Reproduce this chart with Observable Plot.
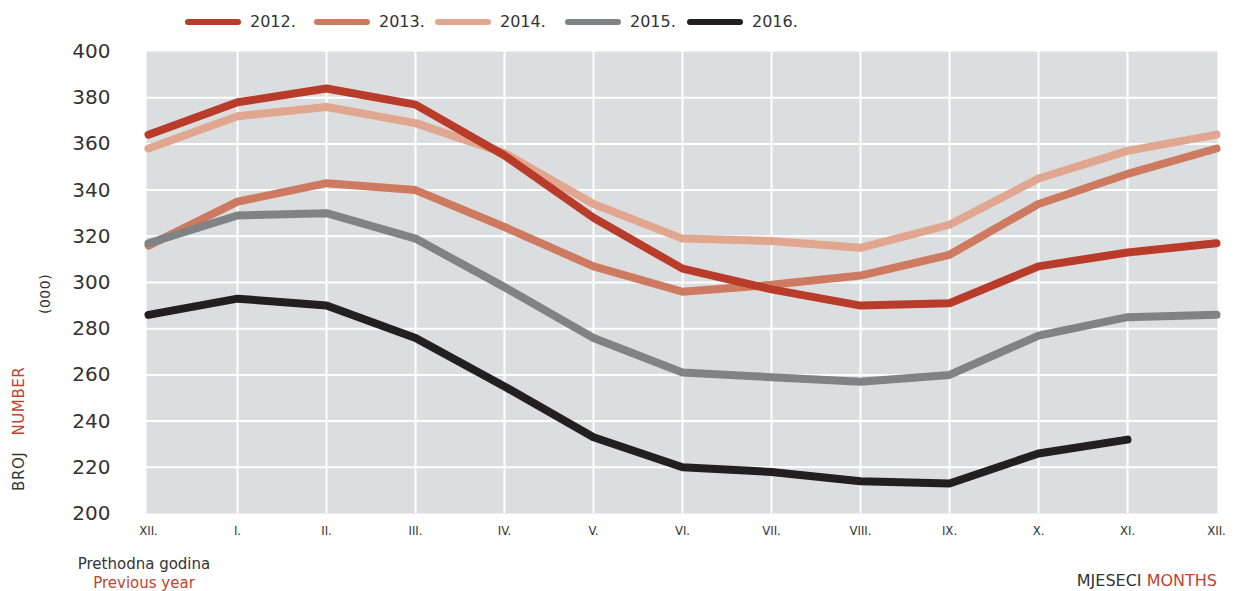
<!DOCTYPE html>
<html>
<head>
<meta charset="utf-8">
<script src="https://cdn.jsdelivr.net/npm/d3@7"></script>
<script src="https://cdn.jsdelivr.net/npm/@observablehq/plot@0.6"></script>
<style>
  body { margin: 0; background: #fff; font-family: "DejaVu Sans", sans-serif; }
  #wrap { position: relative; width: 1241px; height: 591px; overflow: hidden; }
  #legend { position: absolute; left: 0; top: 0; height: 40px; width: 1241px; }
  .item { position: absolute; top: 12px; display: flex; align-items: center; font-size: 16px; color: #333; }
  .sw { display: inline-block; width: 56px; height: 6px; border-radius: 3px; margin-right: 9px; }
  #chart { position: absolute; left: 0; top: 40px; }
  .ann { position: absolute; font-size: 15px; white-space: nowrap; }
  .red { color: #c0432f; }
  .dark { color: #333; }
</style>
</head>
<body>
<div id="wrap">
  <div id="legend"></div>
  <div id="chart"></div>
  <div class="ann" style="left:10px; top:491px; transform-origin:0 0; transform:rotate(-90deg); font-size:15px; letter-spacing:0.6px;">
    <span class="dark">BROJ</span>&nbsp;&nbsp;&nbsp;<span class="red">NUMBER</span>
  </div>
  <div class="ann dark" style="left:37px; top:314px; transform-origin:0 0; transform:rotate(-90deg); font-size:14px; letter-spacing:0.5px;">(000)</div>
  <div class="ann dark" style="left:0; width:288px; text-align:center; top:555px;">Prethodna godina</div>
  <div class="ann red" style="left:0; width:288px; text-align:center; top:574px;">Previous year</div>
  <div class="ann" style="right:24px; top:571px; font-size:16px;"><span class="dark">MJESECI</span> <span class="red">MONTHS</span></div>
</div>
<script>
const months = ["XII.", "I.", "II.", "III.", "IV.", "V.", "VI.", "VII.", "VIII.", "IX.", "X.", "XI.", "XII."];
const years = ["2012.", "2013.", "2014.", "2015.", "2016."];
const colors = ["#b83c29", "#cd7a60", "#e0a68f", "#818285", "#231f20"];

const v2012 = [364, 378, 384, 377, 355, 328, 306, 297, 290, 291, 307, 313, 317];
const v2013 = [316, 335, 343, 340, 324, 307, 296, 299, 303, 312, 334, 347, 358];
const v2014 = [358, 372, 376, 369, 356, 334, 319, 318, 315, 325, 345, 357, 364];
const v2015 = [317, 329, 330, 319, 298, 276, 261, 259, 257, 260, 277, 285, 286];
const v2016 = [286, 293, 290, 276, 255, 233, 220, 218, 214, 213, 226, 232, null];

const yTicks = [200, 220, 240, 260, 280, 300, 320, 340, 360, 380, 400];
const gridY = [220, 240, 260, 280, 300, 320, 340, 360, 380];

const series = [v2012, v2013, v2014, v2015, v2016];
const rows = [];
series.forEach((vals, s) => vals.forEach((v, i) => { if (v != null) rows.push({year: years[s], i, value: v}); }));

// legend
const legend = document.getElementById("legend");
const lx = [185, 314, 435, 565, 687];
years.forEach((y, k) => {
  const d = document.createElement("div");
  d.className = "item";
  d.style.left = lx[k] + "px";
  d.innerHTML = `<span class="sw" style="background:${colors[k]}"></span><span>${y}</span>`;
  legend.appendChild(d);
});

const drawOrder = ["2014.", "2013.", "2012.", "2015.", "2016."];

const plot = Plot.plot({
  width: 1241,
  height: 551,
  marginTop: 11,
  marginBottom: 78,
  marginLeft: 146,
  marginRight: 24,
  style: { fontFamily: "DejaVu Sans, sans-serif", color: "#333", background: "transparent" },
  x: { type: "point", domain: d3.range(months.length), padding: 0 },
  y: { domain: [200, 400] },
  color: { domain: years, range: colors },
  marks: [
    Plot.frame({ fill: "#dcdddf", stroke: null }),
    Plot.gridY(gridY, { stroke: "#fff", strokeOpacity: 1, strokeWidth: 2 }),
    Plot.gridX(d3.range(1, 12), { stroke: "#fff", strokeOpacity: 1, strokeWidth: 2 }),
    ...drawOrder.map(y => Plot.line(rows.filter(r => r.year === y), {
      x: "i", y: "value", stroke: "year", strokeWidth: 8,
      strokeLinecap: "round", strokeLinejoin: "round"
    })),
    Plot.axisY({ ticks: yTicks, tickSize: 0, tickPadding: 36, fontSize: 20, label: null, fill: "#333" }),
    Plot.axisX({ ticks: d3.range(months.length), tickFormat: i => months[i], tickSize: 0, tickPadding: 12,
      fontSize: 13, label: null, fontFamily: "Liberation Sans Narrow, DejaVu Sans Condensed, sans-serif", fill: "#333" })
  ]
});
document.getElementById("chart").appendChild(plot);
</script>
</body>
</html>
